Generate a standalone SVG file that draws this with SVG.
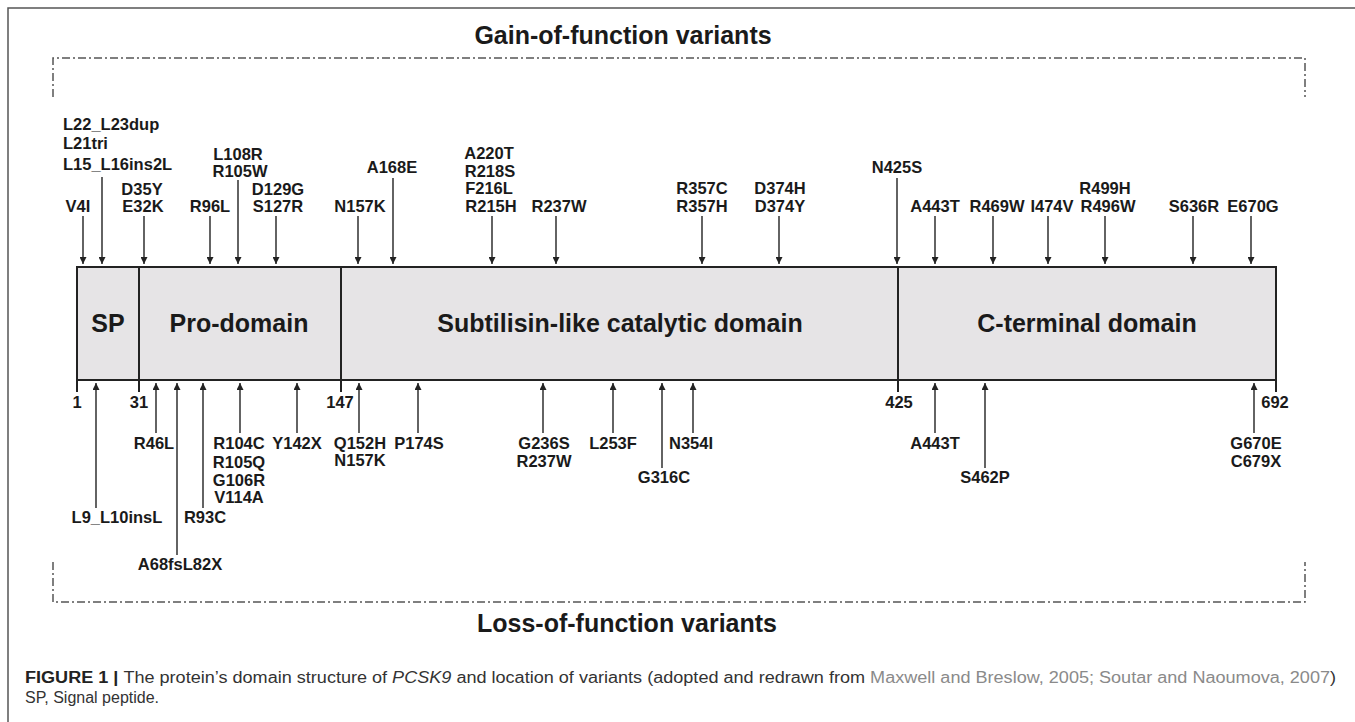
<svg xmlns="http://www.w3.org/2000/svg" width="1355" height="722" viewBox="0 0 1355 722">
<defs>
<style>
.lbl{font-family:"Liberation Sans",Arial,sans-serif;font-weight:bold;font-size:16.5px;fill:#1a1a1a;text-anchor:middle}
.dom{font-family:"Liberation Sans",Arial,sans-serif;font-weight:bold;font-size:25px;fill:#1a1a1a;text-anchor:middle}
.ttl{font-family:"Liberation Sans",Arial,sans-serif;font-weight:bold;font-size:25px;fill:#1a1a1a;text-anchor:middle}
.num{font-family:"Liberation Sans",Arial,sans-serif;font-weight:bold;font-size:16.5px;fill:#1a1a1a;text-anchor:middle}
.arr{stroke:#222;stroke-width:1.4;fill:none;marker-end:url(#ah)}
.tick{stroke:#222;stroke-width:2;fill:none}
.dd{stroke:#555;stroke-width:1.5;fill:none;stroke-dasharray:8 3 2 3}
.cap{font-family:"Liberation Sans",Arial,sans-serif;font-size:16px;fill:#333}
</style>
<marker id="ah" viewBox="0 0 7 7" refX="7" refY="3.5" markerWidth="7" markerHeight="7" markerUnits="userSpaceOnUse" orient="auto">
<path d="M0,0 L7,3.5 L0,7 z" fill="#222"/>
</marker>
</defs>
<rect width="1355" height="722" fill="#ffffff"/>
<path d="M8,722 V8 H1355" stroke="#555" stroke-width="1.5" fill="none"/>

<g id="gain-frame">
<path class="dd" d="M53,97 V58 H1305 V97"/>
<text class="ttl" x="623" y="44">Gain-of-function variants</text>
</g>
<g id="loss-frame">
<path class="dd" d="M53,562 V602 H1305 V562"/>
<text class="ttl" x="627" y="632">Loss-of-function variants</text>
</g>

<g id="protein">
<rect x="77" y="267" width="1199" height="113" fill="#e6e4e6" stroke="#222" stroke-width="2"/>
<path class="tick" d="M77,380 V392 M139,267 V392 M341,267 V392 M898,267 V392 M1276,380 V392"/>
<text class="num" x="77" y="408">1</text>
<text class="num" x="139" y="408">31</text>
<text class="num" x="340" y="408">147</text>
<text class="num" x="899" y="408">425</text>
<text class="num" x="1275" y="408">692</text>
</g>
<g id="domain-sp"><text class="dom" x="108" y="332">SP</text></g>
<g id="domain-pro"><text class="dom" x="239" y="332">Pro-domain</text></g>
<g id="domain-subtilisin"><text class="dom" x="620" y="332">Subtilisin-like catalytic domain</text></g>
<g id="domain-cterm"><text class="dom" x="1087" y="332">C-terminal domain</text></g>

<g id="gof-labels">
<g id="g-V4I"><text class="lbl" x="78" y="212">V4I</text></g>
<g id="g-L22"><text class="lbl" style="text-anchor:start" x="63" y="130">L22_L23dup</text><text class="lbl" style="text-anchor:start" x="63" y="149">L21tri</text><text class="lbl" style="text-anchor:start" x="63" y="170">L15_L16ins2L</text></g>
<g id="g-D35Y"><text class="lbl" x="142" y="195">D35Y</text><text class="lbl" x="143" y="212">E32K</text></g>
<g id="g-R96L"><text class="lbl" x="210" y="212">R96L</text></g>
<g id="g-L108R"><text class="lbl" x="238" y="160">L108R</text><text class="lbl" x="240" y="177">R105W</text></g>
<g id="g-D129G"><text class="lbl" x="278" y="195">D129G</text><text class="lbl" x="278" y="212">S127R</text></g>
<g id="g-N157K"><text class="lbl" x="360" y="212">N157K</text></g>
<g id="g-A168E"><text class="lbl" x="392" y="173">A168E</text></g>
<g id="g-A220T"><text class="lbl" x="489" y="159">A220T</text><text class="lbl" x="490" y="177">R218S</text><text class="lbl" x="489" y="194">F216L</text><text class="lbl" x="491" y="212">R215H</text></g>
<g id="g-R237W"><text class="lbl" x="559" y="212">R237W</text></g>
<g id="g-R357C"><text class="lbl" x="702" y="194">R357C</text><text class="lbl" x="702" y="212">R357H</text></g>
<g id="g-D374H"><text class="lbl" x="780" y="194">D374H</text><text class="lbl" x="780" y="212">D374Y</text></g>
<g id="g-N425S"><text class="lbl" x="897" y="173">N425S</text></g>
<g id="g-A443T"><text class="lbl" x="935" y="212">A443T</text></g>
<g id="g-R469W"><text class="lbl" x="997" y="212">R469W</text></g>
<g id="g-I474V"><text class="lbl" x="1052" y="212">I474V</text></g>
<g id="g-R499H"><text class="lbl" x="1105" y="194">R499H</text><text class="lbl" x="1108" y="212">R496W</text></g>
<g id="g-S636R"><text class="lbl" x="1194" y="212">S636R</text></g>
<g id="g-E670G"><text class="lbl" x="1253" y="212">E670G</text></g>
</g>

<g id="lof-labels">
<g id="l-L9"><text class="lbl" x="117" y="523">L9_L10insL</text></g>
<g id="l-R46L"><text class="lbl" x="154" y="449">R46L</text></g>
<g id="l-A68"><text class="lbl" x="180" y="570">A68fsL82X</text></g>
<g id="l-R93C"><text class="lbl" x="205" y="523">R93C</text></g>
<g id="l-R104C"><text class="lbl" x="239" y="449">R104C</text><text class="lbl" x="239" y="468">R105Q</text><text class="lbl" x="239" y="486">G106R</text><text class="lbl" x="239" y="503">V114A</text></g>
<g id="l-Y142X"><text class="lbl" x="297" y="449">Y142X</text></g>
<g id="l-Q152H"><text class="lbl" x="360" y="449">Q152H</text><text class="lbl" x="360" y="466">N157K</text></g>
<g id="l-P174S"><text class="lbl" x="419" y="449">P174S</text></g>
<g id="l-G236S"><text class="lbl" x="544" y="449">G236S</text><text class="lbl" x="544" y="467">R237W</text></g>
<g id="l-L253F"><text class="lbl" x="613" y="449">L253F</text></g>
<g id="l-G316C"><text class="lbl" x="664" y="483">G316C</text></g>
<g id="l-N354I"><text class="lbl" x="691" y="449">N354I</text></g>
<g id="l-A443T"><text class="lbl" x="935" y="449">A443T</text></g>
<g id="l-S462P"><text class="lbl" x="985" y="483">S462P</text></g>
<g id="l-G670E"><text class="lbl" x="1256" y="449">G670E</text><text class="lbl" x="1256" y="467">C679X</text></g>
</g>

<g id="connectors">
<path class="arr" d="M83,216 V264"/>
<path class="arr" d="M102,177 V264"/>
<path class="arr" d="M144,216 V264"/>
<path class="arr" d="M210,216 V264"/>
<path class="arr" d="M238,180 V264"/>
<path class="arr" d="M276,216 V264"/>
<path class="arr" d="M358,216 V264"/>
<path class="arr" d="M393,178 V264"/>
<path class="arr" d="M492,216 V264"/>
<path class="arr" d="M556,216 V264"/>
<path class="arr" d="M702,216 V264"/>
<path class="arr" d="M779,216 V264"/>
<path class="arr" d="M897,178 V264"/>
<path class="arr" d="M935,216 V264"/>
<path class="arr" d="M993,216 V264"/>
<path class="arr" d="M1048,216 V264"/>
<path class="arr" d="M1105,216 V264"/>
<path class="arr" d="M1193,216 V264"/>
<path class="arr" d="M1251,216 V264"/>

<path class="arr" d="M96,508 V383"/>
<path class="arr" d="M156,433 V383"/>
<path class="arr" d="M177,555 V383"/>
<path class="arr" d="M203,508 V383"/>
<path class="arr" d="M240,433 V383"/>
<path class="arr" d="M297,433 V383"/>
<path class="arr" d="M359,433 V383"/>
<path class="arr" d="M418,433 V383"/>
<path class="arr" d="M543,433 V383"/>
<path class="arr" d="M613,433 V383"/>
<path class="arr" d="M662,468 V383"/>
<path class="arr" d="M693,433 V383"/>
<path class="arr" d="M935,433 V383"/>
<path class="arr" d="M985,468 V383"/>
<path class="arr" d="M1254,433 V383"/>
</g>

<g id="caption">
<text class="cap" x="25" y="683" textLength="1311" lengthAdjust="spacingAndGlyphs"><tspan font-weight="bold" fill="#222">FIGURE 1 | </tspan>The protein’s domain structure of <tspan font-style="italic">PCSK9</tspan> and location of variants (adopted and redrawn from <tspan fill="#8a8a8a">Maxwell and Breslow, 2005; Soutar and Naoumova, 2007</tspan>)</text>
<text class="cap" x="25" y="703">SP, Signal peptide.</text>
</g>
</svg>
